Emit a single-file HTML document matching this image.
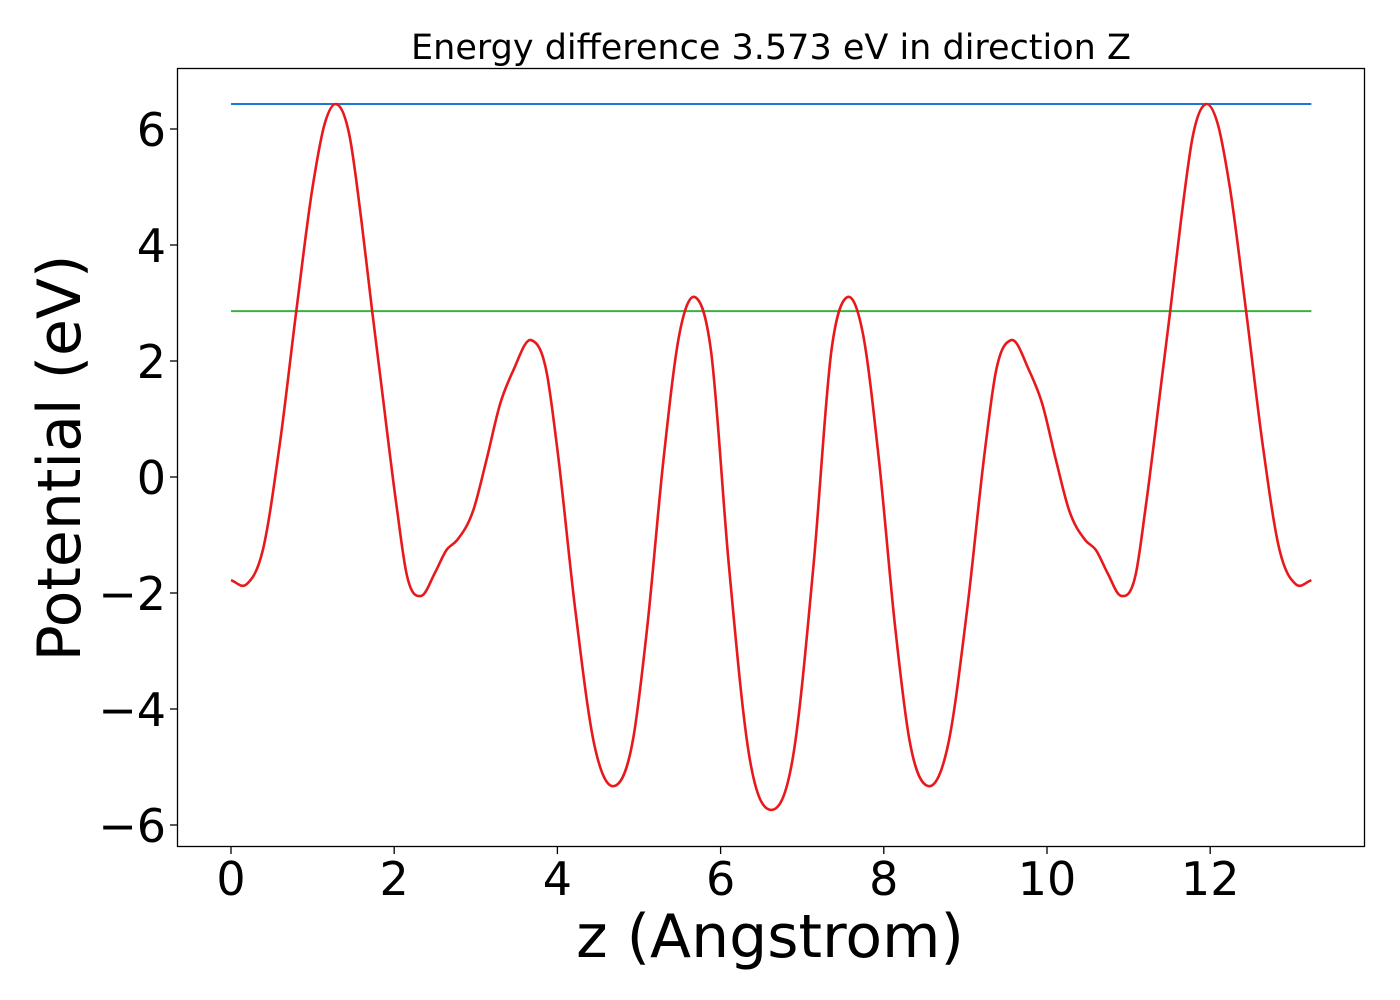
<!DOCTYPE html>
<html><head><meta charset="utf-8"><style>
body{margin:0;background:#fff;}
svg{display:block;font-family:"DejaVu Sans","Liberation Sans",sans-serif;}
</style></head><body>
<svg id="chart" width="1400" height="1000" viewBox="0 0 1400 1000" xmlns="http://www.w3.org/2000/svg">
<rect width="1400" height="1000" fill="#fff"/>
<text x="771" y="59" font-size="35" text-anchor="middle">Energy difference 3.573 eV in direction Z</text>
<g id="plot"></g>
<rect x="177.5" y="68.5" width="1187" height="778" fill="none" stroke="#000" stroke-width="1.3"/>
<g id="xticks"></g>
<g id="yticks"></g>
<text x="770" y="957" font-size="60" text-anchor="middle">z (Angstrom)</text>
<text x="0" y="0" font-size="60" text-anchor="middle" transform="translate(80,458) rotate(-90)">Potential (eV)</text>
</svg>
<script>
const zValues=[0,0.19,0.39,0.6,0.8,1.0,1.15,1.29,1.45,1.6,1.73,1.83,2.03,2.15,2.33,2.5,2.64,2.77,2.97,3.13,3.3,3.46,3.68,3.87,4.0,4.22,4.45,4.69,4.93,5.1,5.3,5.5,5.69,5.88,6.1,6.35,6.62,6.89,7.14,7.36,7.55,7.74,7.94,8.14,8.31,8.55,8.79,9.02,9.24,9.37,9.56,9.78,9.94,10.11,10.27,10.47,10.6,10.74,10.91,11.09,11.21,11.41,11.51,11.64,11.79,11.95,12.09,12.24,12.44,12.64,12.85,13.05,13.24];
const potential=[-1.78,-1.85,-1.26,0.59,2.86,5.0,6.1,6.43,5.9,4.4,2.86,1.73,-0.51,-1.66,-2.05,-1.65,-1.26,-1.09,-0.57,0.29,1.27,1.84,2.36,1.79,0.47,-2.3,-4.6,-5.33,-4.5,-2.6,0.3,2.5,3.1,2.2,-1.5,-4.8,-5.74,-4.8,-1.5,2.2,3.1,2.5,0.3,-2.6,-4.5,-5.33,-4.6,-2.3,0.47,1.79,2.36,1.84,1.27,0.29,-0.57,-1.09,-1.26,-1.65,-2.05,-1.66,-0.51,1.73,2.86,4.4,5.9,6.43,6.1,5.0,2.86,0.59,-1.26,-1.85,-1.78];
const maxLevel=6.43;
const meanLevel=2.86;
const xTickVals=[0,2,4,6,8,10,12];
const yTickVals=[-6,-4,-2,0,2,4,6];
const NS="http://www.w3.org/2000/svg";
function sx(v){return 231+v*81.6;}
function sy(v){return 477-v*58;}
function mk(tag,attrs,parent){const e=document.createElementNS(NS,tag);for(const k in attrs)e.setAttribute(k,attrs[k]);parent.appendChild(e);return e;}
const plot=document.getElementById('plot');
const x0=zValues[0],x1=zValues[zValues.length-1];
let l=mk('line',{x1:sx(x0),x2:sx(x1),y1:sy(maxLevel),y2:sy(maxLevel),stroke:'#1f77d4','stroke-width':2},plot);


l=mk('line',{x1:sx(x0),x2:sx(x1),y1:sy(meanLevel),y2:sy(meanLevel),stroke:'#3cb043','stroke-width':2},plot);


// smooth cubic Hermite with finite-difference tangents
const n=zValues.length,X=zValues.map(sx),Y=potential.map(sy);
const d=[],m=[];
for(let i=0;i<n-1;i++)d.push((Y[i+1]-Y[i])/(X[i+1]-X[i]));
m[0]=d[0];m[n-1]=d[n-2];
for(let i=1;i<n-1;i++){const h0=X[i]-X[i-1],h1=X[i+1]-X[i];m[i]=(d[i-1]*h1+d[i]*h0)/(h0+h1);}
let p='M'+X[0]+','+Y[0];
for(let i=0;i<n-1;i++){const h=(X[i+1]-X[i])/3;p+=' C'+(X[i]+h)+','+(Y[i]+m[i]*h)+' '+(X[i+1]-h)+','+(Y[i+1]-m[i+1]*h)+' '+X[i+1]+','+Y[i+1];}
const c=mk('path',{d:p,fill:'none',stroke:'#e8191c','stroke-width':2.6},plot);


const xt=document.getElementById('xticks');
xTickVals.forEach(v=>{
 const t=mk('line',{x1:sx(v),x2:sx(v),y1:847,y2:854,stroke:'#000','stroke-width':1.3},xt);
 
 
 const s=mk('text',{x:sx(v),y:895,'font-size':46,'text-anchor':'middle'},xt);
 s.textContent=String(v);
 
 
});
const yt=document.getElementById('yticks');
yTickVals.forEach(v=>{
 const t=mk('line',{x1:170,x2:177,y1:sy(v),y2:sy(v),stroke:'#000','stroke-width':1.3},yt);
 
 
 const s=mk('text',{x:166,y:sy(v)+17,'font-size':46,'text-anchor':'end'},yt);
 s.textContent=v<0?'\u2212'+Math.abs(v):String(v);
 
 
});
</script>
</body></html>
